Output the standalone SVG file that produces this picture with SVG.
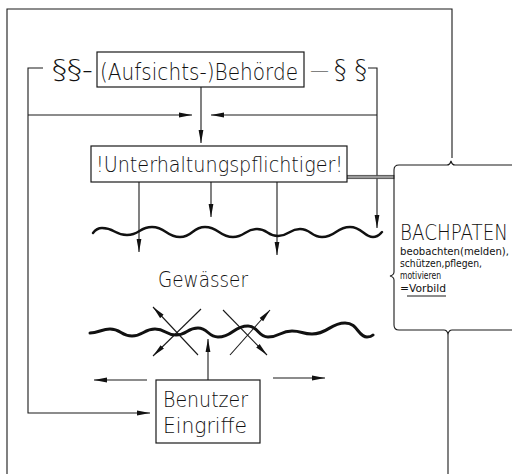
<svg xmlns="http://www.w3.org/2000/svg" width="512" height="474" viewBox="0 0 512 474">
<style>
.ln{fill:none;stroke:#1a1a1a;stroke-width:1.1}
.box{fill:#fff;stroke:#1a1a1a;stroke-width:1.2}
.wave{fill:none;stroke:#111;stroke-linecap:round;stroke-linejoin:round}
.t{font-family:"DejaVu Sans","Liberation Sans",sans-serif;font-weight:200;fill:#111}
.s{font-family:"DejaVu Sans","Liberation Sans",sans-serif;font-weight:400;fill:#111}
</style>
<defs>
<marker id="ah" markerUnits="userSpaceOnUse" markerWidth="14" markerHeight="7" refX="13" refY="3" orient="auto">
<path d="M0,0.6 L13,3 L0,5.4 Z" fill="#111"/>
</marker>
</defs>
<rect width="512" height="474" fill="#fff"/>

<g id="frame">
<path class="ln" d="M7,474 L7,9 L452,9 L452,158"/>
</g>

<g id="connectors">
<path class="ln" d="M43,68 L28,68 L28,413 L150,413" marker-end="url(#ah)"/>
<path class="ln" d="M28,115 L192,115" marker-end="url(#ah)"/>
<path class="ln" d="M368,68 L377,68 L377,228" marker-end="url(#ah)"/>
<path class="ln" d="M377,115 L211,115" marker-end="url(#ah)"/>
<path class="ln" d="M201,87 L201,143" marker-end="url(#ah)"/>
<path class="ln" d="M139,182 L139,252" marker-end="url(#ah)"/>
<path class="ln" d="M211,182 L211,217" marker-end="url(#ah)"/>
<path class="ln" d="M277,182 L277,255" marker-end="url(#ah)"/>
<path class="ln" d="M198,355 L153,307" marker-end="url(#ah)"/>
<path class="ln" d="M201,309 L153,356" marker-end="url(#ah)"/>
<path class="ln" d="M223,310 L267,355" marker-end="url(#ah)"/>
<path class="ln" d="M230,355 L270,310" marker-end="url(#ah)"/>
<path class="ln" d="M208,380 L208,339" marker-end="url(#ah)"/>
<path class="ln" d="M147,380 L94,380" marker-end="url(#ah)"/>
<path class="ln" d="M273,378 L325,378" marker-end="url(#ah)"/>
<rect x="347" y="175.3" width="47" height="3.4" fill="#9a9a9a" stroke="#333" stroke-width="0.7"/>
</g>

<g id="paragraph-left">
<text class="t" x="52" y="79" font-size="26" textLength="41" lengthAdjust="spacingAndGlyphs">§§-</text>
</g>
<g id="paragraph-right">
<text class="t" x="310" y="76" font-size="18" textLength="19" lengthAdjust="spacingAndGlyphs">—</text>
<text class="t" x="334" y="79" font-size="26" textLength="33" lengthAdjust="spacingAndGlyphs">§ §</text>
</g>

<g id="behoerde">
<rect class="box" x="97" y="52" width="207" height="35"/>
<text class="t" x="100" y="80" font-size="23" textLength="198" lengthAdjust="spacingAndGlyphs">(Aufsichts-)Behörde</text>
</g>

<g id="unterhaltung">
<rect class="box" x="91" y="146" width="256" height="36"/>
<text class="t" x="96" y="172" font-size="22" textLength="247" lengthAdjust="spacingAndGlyphs">!Unterhaltungspflichtiger!</text>
</g>

<g id="gewaesser">
<path class="wave" stroke-width="2.4" d="M93,233 C96,229 99,228 102,228 C115,228 114,235 127,235 C140,235 139,227 152,227 C166,227 166,237 180,237 C193,237 192,227 205,227 C219,227 219,237 233,237 C245,237 245,229 257,229 C268,229 267,236 278,236 C289,236 289,229 300,229 C311,229 311,237 322,237 C336,237 336,227 350,227 C362,227 364,237 373,237 C378,237 380,234 382,232"/>
<text class="t" x="158" y="287" font-size="21" textLength="90" lengthAdjust="spacingAndGlyphs">Gewässer</text>
<path class="wave" stroke-width="3" d="M90,333 C98,333 102,329 110,329 C121,329 121,336 132,336 C143,336 144,329 155,329 C166,329 165,335 176,335 C187,335 187,328 198,328 C208,328 208,337 218,337 C233,337 233,326 248,326 C258,326 258,337 268,337 C280,337 280,331 292,331 C302,331 302,334 312,334 C328,334 330,323 345,323 C358,323 358,337 367,337 C370,337 372,336 373,335"/>
</g>

<g id="benutzer">
<rect class="box" x="156" y="380" width="104" height="63"/>
<text class="t" x="163" y="407" font-size="21" textLength="85" lengthAdjust="spacingAndGlyphs">Benutzer</text>
<text class="t" x="163" y="433" font-size="21" textLength="84" lengthAdjust="spacingAndGlyphs">Eingriffe</text>
</g>

<g id="bachpaten">
<path class="ln" stroke-width="1.3" d="M512,165 L455,165 Q452,165 451,161 Q450,165 447,165 L399,165 Q394,165 394,170 L394,272 Q394,275 390,276 Q394,277 394,280 L394,325 Q394,330 399,330 L444,330 Q447,330 448,334 Q449,330 452,330 L512,330"/>
<path class="ln" d="M448,334 L448,474"/>
<text class="t" x="400" y="240" font-size="22" textLength="108" lengthAdjust="spacingAndGlyphs">BACHPATEN</text>
<text class="s" x="400" y="255" font-size="10.5" textLength="109" lengthAdjust="spacingAndGlyphs">beobachten(melden),</text>
<text class="s" x="400" y="267" font-size="10.5" textLength="82" lengthAdjust="spacingAndGlyphs">schützen,pflegen,</text>
<text class="s" x="400" y="279" font-size="10.5" textLength="41" lengthAdjust="spacingAndGlyphs">motivieren</text>
<text class="s" x="400" y="292" font-size="10.5" textLength="46" lengthAdjust="spacingAndGlyphs">=Vorbild</text>
<path class="ln" d="M407,296 L446,296"/>
</g>
</svg>
